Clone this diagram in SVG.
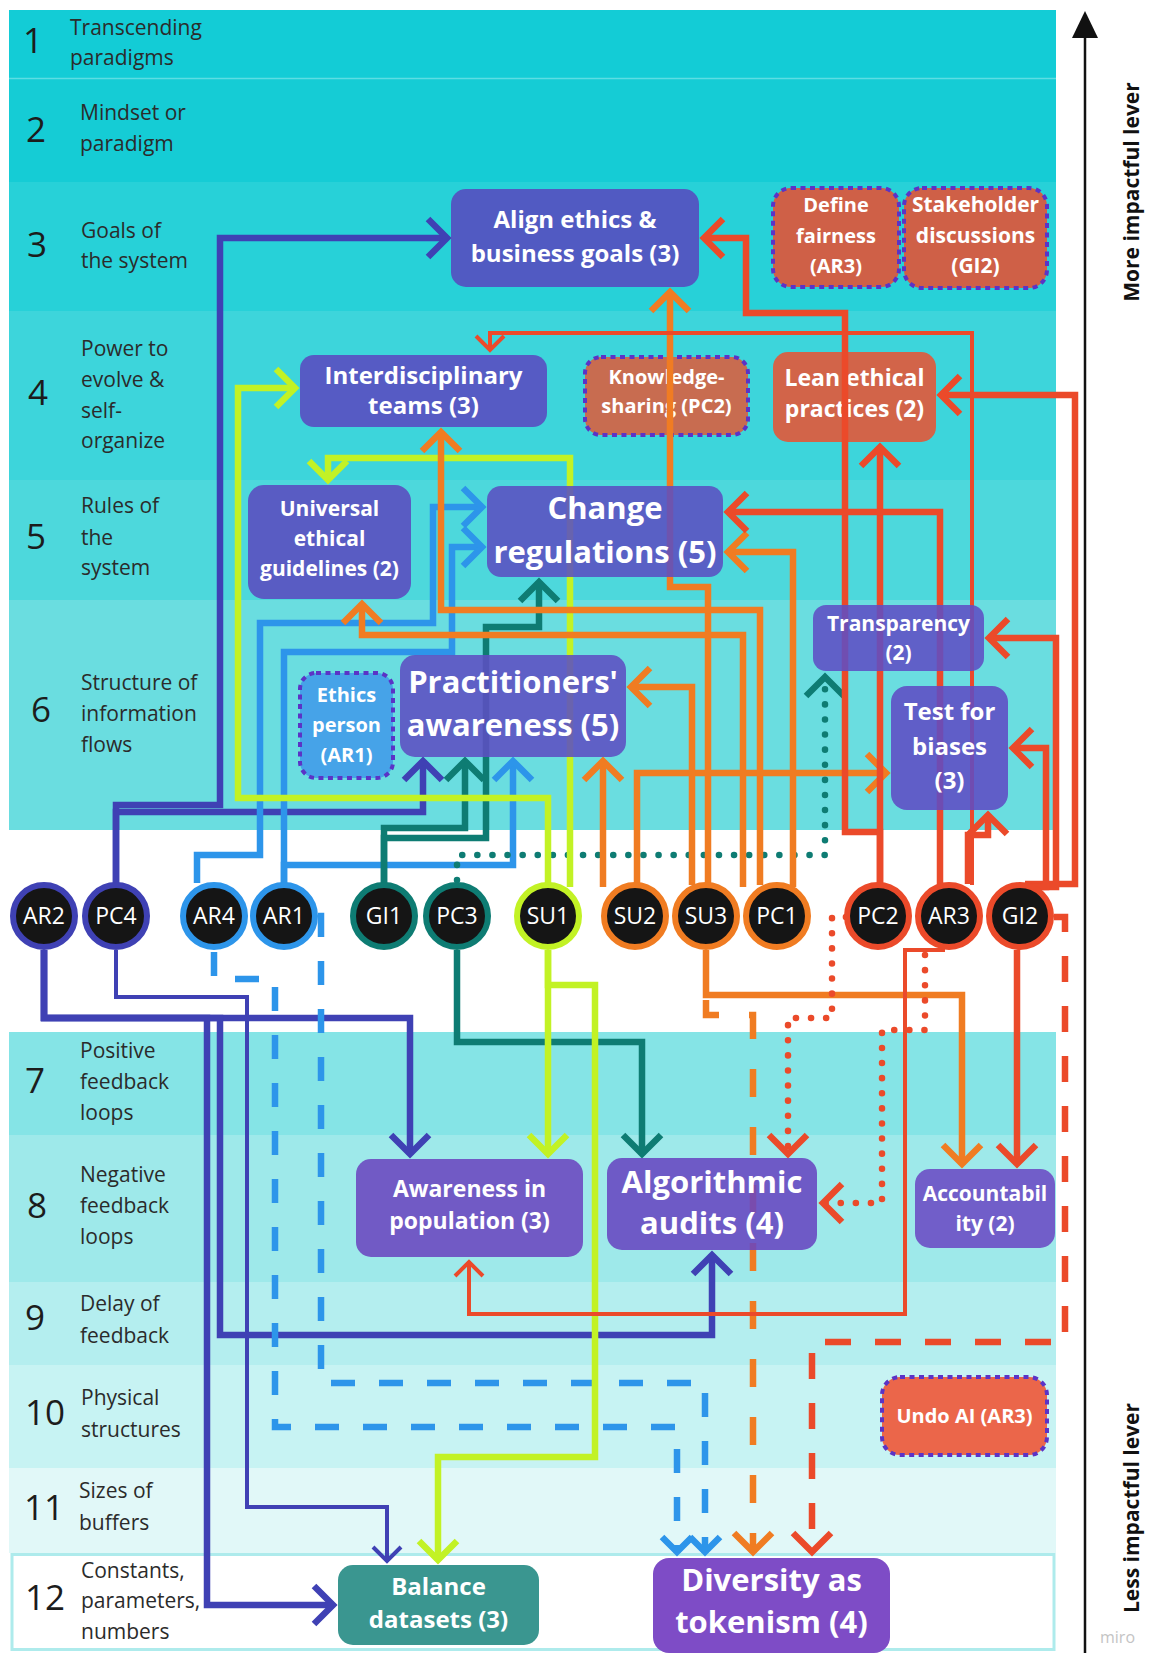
<svg xmlns="http://www.w3.org/2000/svg" width="1152" height="1653" viewBox="0 0 1152 1653">
<style>
.lbl{font-family:"Open Sans","Liberation Sans",sans-serif;font-size:21px;fill:#2b2b2b}
.num{font-family:"Open Sans","Liberation Sans",sans-serif;font-size:35px;fill:#1c1c1c;text-anchor:middle}
.nt{font-family:"Open Sans","Liberation Sans",sans-serif;font-weight:700;fill:#fff;text-anchor:middle}
.ct{font-family:"Open Sans","Liberation Sans",sans-serif;font-size:23px;fill:#fff;text-anchor:middle}
.side{font-family:"Open Sans","Liberation Sans",sans-serif;font-weight:700;font-size:21px;fill:#111;text-anchor:middle}
.ln{fill:none;stroke-width:6.5;stroke-linejoin:miter;stroke-linecap:butt}
.thin{stroke-width:4}
.dash{stroke-dasharray:24 24}
.dot{stroke-dasharray:0.1 15;stroke-linecap:round}
.chev{fill:none;stroke-width:6.5;stroke-linejoin:miter}
.chevt{fill:none;stroke-width:4;stroke-linejoin:miter}
.pn{fill-opacity:0.88}
.tc{stroke:#5B33C6;stroke-width:4;stroke-dasharray:5 4.5}
.ind{stroke:#3F41B4}.blu{stroke:#2D95EA}.tea{stroke:#0E7C73}.lim{stroke:#C2F225}.org{stroke:#F07C22}.red{stroke:#EB4A2A}
.circ{fill:#151515;stroke-width:6}
</style>
<defs>
<marker id="a-ind" markerUnits="userSpaceOnUse" viewBox="-26 -26 34 52" markerWidth="34" markerHeight="52" refX="1" refY="0" orient="auto" overflow="visible"><path d="M-19,-19 L0,0 L-19,19" class="chev ind"/></marker>
<marker id="a-indt" markerUnits="userSpaceOnUse" viewBox="-20 -20 26 40" markerWidth="26" markerHeight="40" refX="1" refY="0" orient="auto" overflow="visible"><path d="M-14,-14 L0,0 L-14,14" class="chevt ind"/></marker>
<marker id="a-blu" markerUnits="userSpaceOnUse" viewBox="-26 -26 34 52" markerWidth="34" markerHeight="52" refX="1" refY="0" orient="auto" overflow="visible"><path d="M-19,-19 L0,0 L-19,19" class="chev blu"/></marker>
<marker id="a-bluS" markerUnits="userSpaceOnUse" viewBox="-20 -20 26 40" markerWidth="26" markerHeight="40" refX="1" refY="0" orient="auto" overflow="visible"><path d="M-15,-15 L0,0 L-15,15" class="chev blu"/></marker>
<marker id="a-tea" markerUnits="userSpaceOnUse" viewBox="-26 -26 34 52" markerWidth="34" markerHeight="52" refX="1" refY="0" orient="auto" overflow="visible"><path d="M-19,-19 L0,0 L-19,19" class="chev tea"/></marker>
<marker id="a-lim" markerUnits="userSpaceOnUse" viewBox="-26 -26 34 52" markerWidth="34" markerHeight="52" refX="1" refY="0" orient="auto" overflow="visible"><path d="M-19,-19 L0,0 L-19,19" class="chev lim"/></marker>
<marker id="a-org" markerUnits="userSpaceOnUse" viewBox="-26 -26 34 52" markerWidth="34" markerHeight="52" refX="1" refY="0" orient="auto" overflow="visible"><path d="M-19,-19 L0,0 L-19,19" class="chev org"/></marker>
<marker id="a-red" markerUnits="userSpaceOnUse" viewBox="-26 -26 34 52" markerWidth="34" markerHeight="52" refX="1" refY="0" orient="auto" overflow="visible"><path d="M-19,-19 L0,0 L-19,19" class="chev red"/></marker>
<marker id="a-redt" markerUnits="userSpaceOnUse" viewBox="-20 -20 26 40" markerWidth="26" markerHeight="40" refX="1" refY="0" orient="auto" overflow="visible"><path d="M-14,-14 L0,0 L-14,14" class="chevt red"/></marker>
</defs>

<rect x="0" y="0" width="1152" height="1653" fill="#ffffff"/>

<g id="bands">
<rect x="9" y="10" width="1047" height="68" fill="#13CCD6"/>
<rect x="9" y="78" width="1047" height="104" fill="#15CCD5"/>
<line x1="9" y1="78.5" x2="1056" y2="78.5" stroke="#5ddde3" stroke-width="1.5"/>
<rect x="9" y="182" width="1047" height="129" fill="#27D1D8"/>
<rect x="9" y="311" width="1047" height="169" fill="#3DD5DB"/>
<rect x="9" y="480" width="1047" height="120" fill="#4DD8DC"/>
<rect x="9" y="600" width="1047" height="230" fill="#6ADDE0"/>
<rect x="9" y="1032" width="1047" height="103" fill="#85E4E6"/>
<rect x="9" y="1135" width="1047" height="147" fill="#9EE9EA"/>
<rect x="9" y="1282" width="1047" height="83" fill="#B4EEEF"/>
<rect x="9" y="1365" width="1047" height="103" fill="#C7F3F3"/>
<rect x="9" y="1468" width="1047" height="85" fill="#E1F8F8"/>
<rect x="12" y="1554.5" width="1042" height="95" fill="#ffffff" stroke="#AEEBEC" stroke-width="3"/>

<text class="num" x="33" y="53">1</text>
<text class="lbl" x="70" y="35">Transcending</text>
<text class="lbl" x="70" y="65">paradigms</text>
<text class="num" x="36" y="142">2</text>
<text class="lbl" x="80" y="120">Mindset or</text>
<text class="lbl" x="80" y="151">paradigm</text>
<text class="num" x="37" y="257">3</text>
<text class="lbl" x="81" y="238">Goals of</text>
<text class="lbl" x="81" y="268">the system</text>
<text class="num" x="38" y="405">4</text>
<text class="lbl" x="81" y="356">Power to</text>
<text class="lbl" x="81" y="387">evolve &amp;</text>
<text class="lbl" x="81" y="418">self-</text>
<text class="lbl" x="81" y="448">organize</text>
<text class="num" x="36" y="549">5</text>
<text class="lbl" x="81" y="513">Rules of</text>
<text class="lbl" x="81" y="545">the</text>
<text class="lbl" x="81" y="575">system</text>
<text class="num" x="41" y="722">6</text>
<text class="lbl" x="81" y="690">Structure of</text>
<text class="lbl" x="81" y="721">information</text>
<text class="lbl" x="81" y="752">flows</text>
<text class="num" x="35" y="1093">7</text>
<text class="lbl" x="80" y="1058">Positive</text>
<text class="lbl" x="80" y="1089">feedback</text>
<text class="lbl" x="80" y="1120">loops</text>
<text class="num" x="37" y="1218">8</text>
<text class="lbl" x="80" y="1182">Negative</text>
<text class="lbl" x="80" y="1213">feedback</text>
<text class="lbl" x="80" y="1244">loops</text>
<text class="num" x="35" y="1330">9</text>
<text class="lbl" x="80" y="1311">Delay of</text>
<text class="lbl" x="80" y="1343">feedback</text>
<text class="num" x="45" y="1425">10</text>
<text class="lbl" x="81" y="1405">Physical</text>
<text class="lbl" x="81" y="1437">structures</text>
<text class="num" x="44" y="1520">11</text>
<text class="lbl" x="79" y="1498">Sizes of</text>
<text class="lbl" x="79" y="1530">buffers</text>
<text class="num" x="45" y="1610">12</text>
<text class="lbl" x="81" y="1578">Constants,</text>
<text class="lbl" x="81" y="1608">parameters,</text>
<text class="lbl" x="81" y="1639">numbers</text>
</g>

<g id="axis">
<line x1="1085" y1="34" x2="1085" y2="1653" stroke="#111" stroke-width="2.5"/>
<polygon points="1085,11 1098,38 1072,38" fill="#111"/>
<text class="side" transform="translate(1139,192) rotate(-90)">More impactful lever</text>
<text class="side" transform="translate(1139,1508) rotate(-90)">Less impactful lever</text>
<text x="1100" y="1643" font-family="'Open Sans','Liberation Sans',sans-serif" font-size="16" fill="#c4c4c4">miro</text>
</g>

<!-- terracotta nodes (connectors drawn over them) -->
<g id="define-fairness">
<rect x="773" y="188" width="126" height="99" rx="18" fill="#CF6047" class="tc"/>
<text class="nt" font-size="20" x="836" y="212">Define</text>
<text class="nt" font-size="20" x="836" y="243">fairness</text>
<text class="nt" font-size="20" x="836" y="273">(AR3)</text>
</g>
<g id="stakeholder-discussions">
<rect x="904" y="188" width="143" height="100" rx="18" fill="#CF6047" class="tc"/>
<text class="nt" font-size="21" x="975.5" y="212">Stakeholder</text>
<text class="nt" font-size="21" x="975.5" y="243">discussions</text>
<text class="nt" font-size="21" x="975.5" y="273">(GI2)</text>
</g>
<g id="knowledge-sharing">
<rect x="585" y="357" width="163" height="78" rx="16" fill="#C86C50" class="tc"/>
<text class="nt" font-size="20" x="666.5" y="384">Knowledge-</text>
<text class="nt" font-size="20" x="666.5" y="413">sharing (PC2)</text>
</g>
<g id="lean-ethical-practices">
<rect x="773" y="352" width="163" height="90" rx="15" fill="#D26449"/>
<text class="nt" font-size="23" x="854.5" y="386">Lean ethical</text>
<text class="nt" font-size="23" x="854.5" y="417">practices (2)</text>
</g>
<g id="undo-ai">
<rect x="882" y="1377" width="165" height="78" rx="18" fill="#EB664A" class="tc"/>
<text class="nt" font-size="20" x="964.5" y="1423">Undo AI (AR3)</text>
</g>

<g id="connectors">
<!-- indigo -->
<path class="ln ind" d="M116,883 V805 H220 V238 H448" marker-end="url(#a-ind)"/>
<path class="ln ind" d="M116,883 V812 H423 V760" marker-end="url(#a-ind)"/>
<path class="ln ind" d="M44,950 V1018 H410 V1155" marker-end="url(#a-ind)"/>
<path class="ln ind" d="M44,950 V1018 H207 V1605 H334" marker-end="url(#a-ind)"/>
<path class="ln ind" d="M44,950 V1018 H220 V1335 H712 V1254" marker-end="url(#a-ind)"/>
<path class="ln ind thin" d="M116,950 V997 H247 V1507 H387 V1562" marker-end="url(#a-indt)"/>
<!-- blue -->
<path class="ln blu" d="M197,883 V855 H260 V623 H433 V507 H483" marker-end="url(#a-blu)"/>
<path class="ln blu" d="M284,883 V652 H452 V547 H483" marker-end="url(#a-blu)"/>
<path class="ln blu" d="M284,883 V865 H513 V760" marker-end="url(#a-blu)"/>
<path class="ln blu dash" d="M214,952 V979 H275 V1427 H677 V1553" marker-end="url(#a-bluS)"/>
<path class="ln blu dash" d="M318,916 H321 V1383 H705 V1553" marker-end="url(#a-bluS)"/>
<!-- teal -->
<path class="ln tea" d="M384,883 V828 H465 V760" marker-end="url(#a-tea)"/>
<path class="ln tea" d="M384,883 V838 H486 V627 H539 V581" marker-end="url(#a-tea)"/>
<path class="ln tea dot" d="M457,880 V855 H825 V676" marker-end="url(#a-tea)"/>
<path class="ln tea" d="M457,950 V1042 H642 V1155" marker-end="url(#a-tea)"/>
<!-- lime -->
<path class="ln lim" d="M548,884 V798 H238 V388 H296" marker-end="url(#a-lim)"/>
<path class="ln lim" d="M570,887 V458 H328 V481" marker-end="url(#a-lim)"/>
<path class="ln lim" d="M548,950 V1155" marker-end="url(#a-lim)"/>
<path class="ln lim" d="M548,950 V985 H595 V1457 H438 V1561" marker-end="url(#a-lim)"/>
<!-- orange -->
<path class="ln org" d="M603,887 V760" marker-end="url(#a-org)"/>
<path class="ln org" d="M637,884 V773 H887" marker-end="url(#a-org)"/>
<path class="ln org" d="M692,885 V687 H630" marker-end="url(#a-org)"/>
<path class="ln org" d="M708,885 V587 H670 V291" marker-end="url(#a-org)"/>
<path class="ln org" d="M743,887 V635 H362 V603" marker-end="url(#a-org)"/>
<path class="ln org" d="M760,885 V610 H441 V431" marker-end="url(#a-org)"/>
<path class="ln org" d="M793,887 V552 H727" marker-end="url(#a-org)"/>
<path class="ln org" d="M706,950 V995 H962 V1165" marker-end="url(#a-org)"/>
<path class="ln org dash" d="M706,1000 V1015 H753 V1553" style="stroke-dasharray:28 30" marker-end="url(#a-org)"/>
<!-- red -->
<path class="ln red" d="M880,884 V832 H845 V313 H746 V238 H703" marker-end="url(#a-red)"/>
<path class="ln red" d="M880,884 V446" marker-end="url(#a-red)"/>
<path class="ln red" d="M940,885 V512 H727" marker-end="url(#a-red)"/>
<path class="ln red thin" d="M972,885 V333 H490 V351" marker-end="url(#a-redt)"/>
<path class="ln red" d="M968,884 V835 H988 V814" marker-end="url(#a-red)"/>
<path class="ln red thin" d="M945,950 H905 V1314 H469 V1261" marker-end="url(#a-redt)"/>
<path class="ln red dot" d="M925,955 V1030 H882 V1203 H822" marker-end="url(#a-red)"/>
<path class="ln red dot" d="M846,917 H832 V1018 H788 V1155" marker-end="url(#a-red)"/>
<path class="ln red" d="M1025,884 H1075 V395 H940" marker-end="url(#a-red)"/>
<path class="ln red" d="M1025,887 H1056 V638 H988" marker-end="url(#a-red)"/>
<path class="ln red" d="M1025,887 H1046 V748 H1012" marker-end="url(#a-red)"/>
<path class="ln red" d="M1017,950 V1165" marker-end="url(#a-red)"/>
<path class="ln red dash" d="M1054,917 H1065 V1342 H812 V1553" style="stroke-dasharray:26 24" marker-end="url(#a-red)"/>
</g>

<!-- purple / teal nodes -->
<g id="align-ethics">
<rect x="451" y="189" width="248" height="98" rx="15" fill="#5849BE" class="pn"/>
<text class="nt" font-size="24" x="575" y="228">Align ethics &amp;</text>
<text class="nt" font-size="24" x="575" y="262">business goals (3)</text>
</g>
<g id="interdisciplinary-teams">
<rect x="300" y="355" width="247" height="72" rx="14" fill="#5A4AC0" class="pn"/>
<text class="nt" font-size="24" x="423.5" y="384">Interdisciplinary</text>
<text class="nt" font-size="24" x="423.5" y="414">teams (3)</text>
</g>
<g id="universal-guidelines">
<rect x="248" y="485" width="163" height="114" rx="16" fill="#5B4ABF" class="pn"/>
<text class="nt" font-size="21" x="329.5" y="516">Universal</text>
<text class="nt" font-size="21" x="329.5" y="546">ethical</text>
<text class="nt" font-size="21" x="329.5" y="576">guidelines (2)</text>
</g>
<g id="change-regulations">
<rect x="487" y="486" width="236" height="91" rx="14" fill="#5B4EC2" class="pn"/>
<text class="nt" font-size="31" x="605" y="519">Change</text>
<text class="nt" font-size="31" x="605" y="563">regulations (5)</text>
</g>
<g id="transparency">
<rect x="813" y="605" width="171" height="66" rx="13" fill="#5E4EC4" class="pn"/>
<text class="nt" font-size="21" x="898.5" y="631">Transparency</text>
<text class="nt" font-size="21" x="898.5" y="660">(2)</text>
</g>
<g id="ethics-person">
<rect x="300" y="673" width="93" height="105" rx="16" fill="#46A3E8" class="tc"/>
<text class="nt" font-size="20" x="346.5" y="702">Ethics</text>
<text class="nt" font-size="20" x="346.5" y="732">person</text>
<text class="nt" font-size="20" x="346.5" y="762">(AR1)</text>
</g>
<g id="practitioners-awareness">
<rect x="400" y="655" width="226" height="102" rx="15" fill="#5D4EC2" class="pn"/>
<text class="nt" font-size="31" x="513" y="693">Practitioners'</text>
<text class="nt" font-size="31" x="513" y="736">awareness (5)</text>
</g>
<g id="test-for-biases">
<rect x="891" y="686" width="117" height="124" rx="16" fill="#5E4CC4" class="pn"/>
<text class="nt" font-size="24" x="949.5" y="720">Test for</text>
<text class="nt" font-size="24" x="949.5" y="755">biases</text>
<text class="nt" font-size="24" x="949.5" y="789">(3)</text>
</g>
<g id="awareness-population">
<rect x="356" y="1159" width="227" height="98" rx="15" fill="#6B45BF" class="pn"/>
<text class="nt" font-size="23" x="469.5" y="1197">Awareness in</text>
<text class="nt" font-size="23" x="469.5" y="1229">population (3)</text>
</g>
<g id="algorithmic-audits">
<rect x="607" y="1158" width="210" height="92" rx="15" fill="#6845C0" class="pn"/>
<text class="nt" font-size="31" x="712" y="1193">Algorithmic</text>
<text class="nt" font-size="31" x="712" y="1234">audits (4)</text>
</g>
<g id="accountability">
<rect x="915" y="1169" width="140" height="79" rx="15" fill="#6B4AC4" class="pn"/>
<text class="nt" font-size="21" x="985" y="1201">Accountabil</text>
<text class="nt" font-size="21" x="985" y="1231">ity (2)</text>
</g>
<g id="balance-datasets">
<rect x="338" y="1565" width="201" height="80" rx="15" fill="#3A9690"/>
<text class="nt" font-size="24" x="438.5" y="1595">Balance</text>
<text class="nt" font-size="24" x="438.5" y="1628">datasets (3)</text>
</g>
<g id="diversity-tokenism">
<rect x="653" y="1558" width="237" height="95" rx="16" fill="#7E4CC6"/>
<text class="nt" font-size="31" x="771.5" y="1591">Diversity as</text>
<text class="nt" font-size="31" x="771.5" y="1633">tokenism (4)</text>
</g>

<!-- source circles -->
<g id="AR2"><circle cx="44" cy="916" r="31" class="circ" stroke="#3F41B4"/><text class="ct" x="44" y="924">AR2</text></g>
<g id="PC4"><circle cx="116" cy="916" r="31" class="circ" stroke="#3F41B4"/><text class="ct" x="116" y="924">PC4</text></g>
<g id="AR4"><circle cx="214" cy="916" r="31" class="circ" stroke="#2D95EA"/><text class="ct" x="214" y="924">AR4</text></g>
<g id="AR1"><circle cx="284" cy="916" r="31" class="circ" stroke="#2D95EA"/><text class="ct" x="284" y="924">AR1</text></g>
<g id="GI1"><circle cx="384" cy="916" r="31" class="circ" stroke="#0E7C73"/><text class="ct" x="384" y="924">GI1</text></g>
<g id="PC3"><circle cx="457" cy="916" r="31" class="circ" stroke="#0E7C73"/><text class="ct" x="457" y="924">PC3</text></g>
<g id="SU1"><circle cx="548" cy="916" r="31" class="circ" stroke="#C2F225"/><text class="ct" x="548" y="924">SU1</text></g>
<g id="SU2"><circle cx="635" cy="916" r="31" class="circ" stroke="#F07C22"/><text class="ct" x="635" y="924">SU2</text></g>
<g id="SU3"><circle cx="706" cy="916" r="31" class="circ" stroke="#F07C22"/><text class="ct" x="706" y="924">SU3</text></g>
<g id="PC1"><circle cx="777" cy="916" r="31" class="circ" stroke="#F07C22"/><text class="ct" x="777" y="924">PC1</text></g>
<g id="PC2"><circle cx="878" cy="916" r="31" class="circ" stroke="#EB4A2A"/><text class="ct" x="878" y="924">PC2</text></g>
<g id="AR3"><circle cx="949" cy="916" r="31" class="circ" stroke="#EB4A2A"/><text class="ct" x="949" y="924">AR3</text></g>
<g id="GI2"><circle cx="1020" cy="916" r="31" class="circ" stroke="#EB4A2A"/><text class="ct" x="1020" y="924">GI2</text></g>
</svg>
